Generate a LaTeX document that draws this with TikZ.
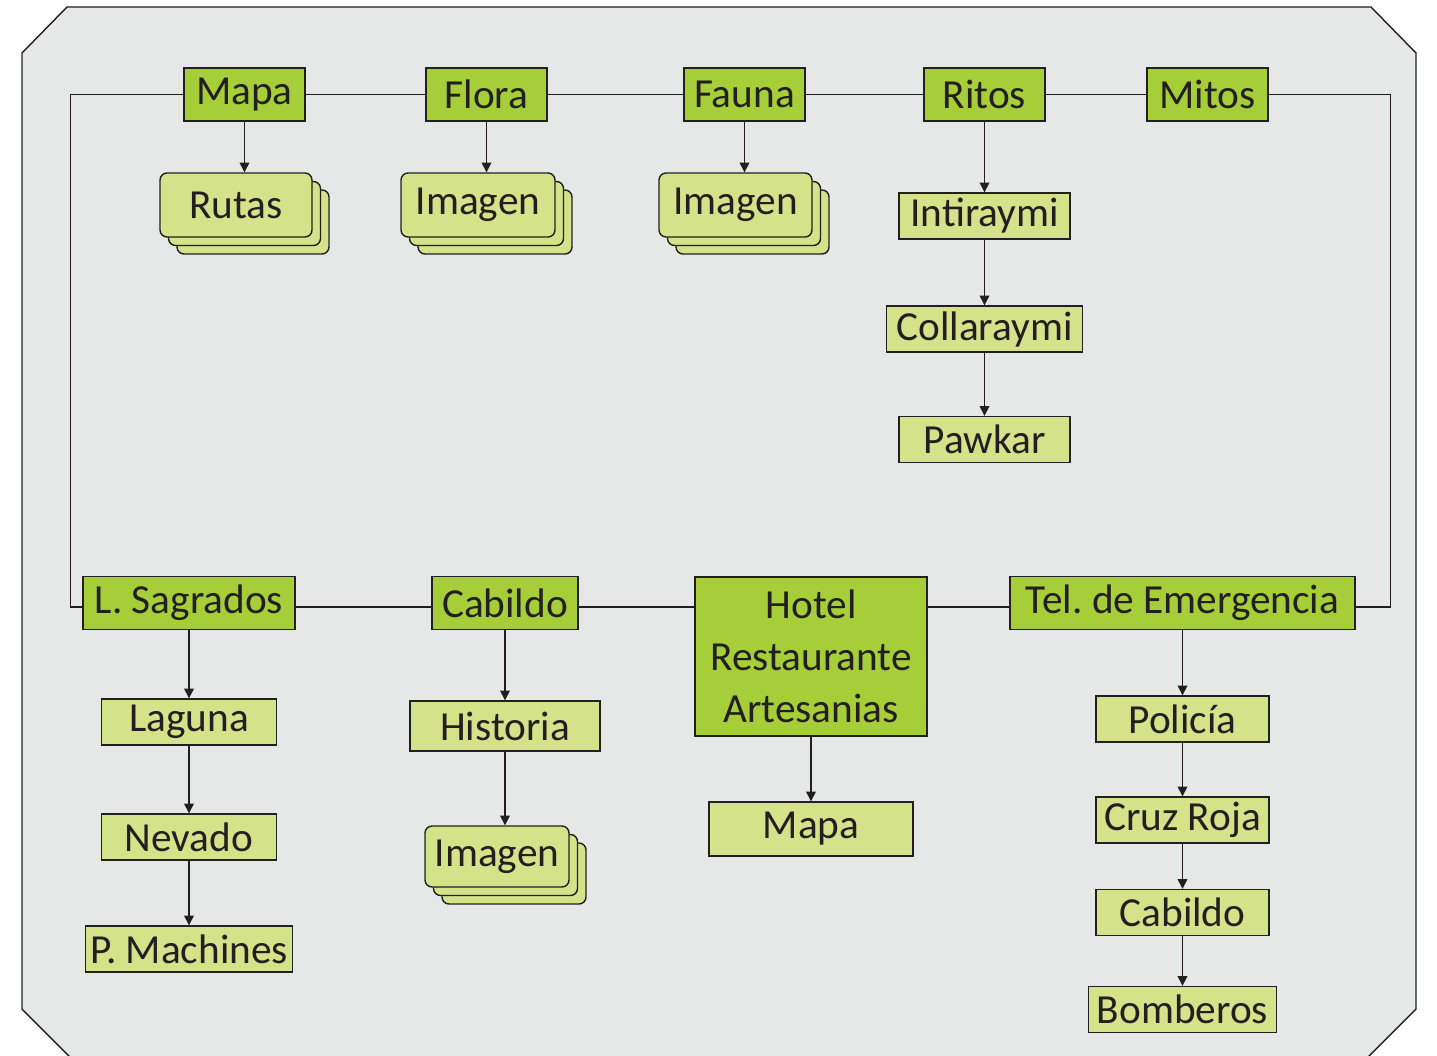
\documentclass[tikz,border=0pt]{standalone}
\usepackage{fontspec}
\setmainfont{Carlito}
\usepackage{xcolor}
\usetikzlibrary{arrows.meta,shadows}
\definecolor{dkgreen}{HTML}{A6CE39}
\definecolor{ltgreen}{HTML}{D4E38A}
\definecolor{bggray}{HTML}{E6E7E7}
\definecolor{ink}{HTML}{231F20}
\frenchspacing
\tikzset{
  mainbox/.style={draw=ink, fill=dkgreen, line width=0.8pt, inner sep=0pt, minimum height=1.06cm},
  subbox/.style={draw=ink, fill=ltgreen, line width=0.8pt, inner sep=0pt, minimum height=0.92cm},
  stackbox/.style={draw=ink, fill=ltgreen, line width=0.8pt, inner sep=0pt, rounded corners=0.14cm,
    minimum height=1.28cm, double copy shadow={shadow xshift=0.17cm, shadow yshift=-0.17cm}},
  link/.style={draw=ink, line width=0.8pt},
  arr/.style={->, draw=ink, line width=0.8pt, >={Triangle[length=5.5pt,width=5.5pt]}},
}

\begin{document}
\begin{tikzpicture}[x=0.02cm, y=-0.02cm, font=\fontsize{23.5}{29.5}\selectfont, text=ink]
  \useasboundingbox (0,0) rectangle (1437,1055);
  \draw[draw=ink, fill=bggray, line width=0.8pt] (67,7) -- (1371,7) -- (1416,53) -- (1416,1009)
    -- (1364,1061) -- (74,1061) -- (22,1009) -- (22,53) -- cycle;

  \node[mainbox, minimum width=2.42cm] (mapa) at (244.5,94.5) {Mapa};
  \node[mainbox, minimum width=2.42cm] (flora) at (486.5,94.5) {Flora};
  \node[mainbox, minimum width=2.42cm] (fauna) at (744.5,94.5) {Fauna};
  \node[mainbox, minimum width=2.42cm] (ritos) at (984.5,94.5) {Ritos};
  \node[mainbox, minimum width=2.42cm] (mitos) at (1207.5,94.5) {Mitos};

  \node[stackbox, minimum width=3.04cm] (rutas) at (236,205) {Rutas};
  \node[stackbox, minimum width=3.08cm] (imgflora) at (478,205) {Imagen};
  \node[stackbox, minimum width=3.06cm] (imgfauna) at (735.5,205) {Imagen};

  \node[subbox, minimum width=3.42cm] (inti) at (984.5,216) {Intiraymi};
  \node[subbox, minimum width=3.92cm] (colla) at (984.5,329) {Collaraymi};
  \node[subbox, minimum width=3.42cm] (pawkar) at (984.5,439.5) {Pawkar};

  \node[mainbox, minimum width=4.24cm] (lsag) at (189,603) {L. Sagrados};
  \node[mainbox, minimum width=2.92cm] (cab) at (505,603) {Cabildo};
  \node[mainbox, minimum width=4.64cm, minimum height=3.18cm, align=center] (hotel) at (811,656.5)
    {Hotel\\Restaurante\\Artesanias};
  \node[mainbox, minimum width=6.9cm] (tel) at (1182.5,603) {Tel. de Emergencia};

  \node[subbox, minimum width=3.5cm] (laguna) at (189,722) {Laguna};
  \node[subbox, minimum width=3.5cm] (nevado) at (189,837) {Nevado};
  \node[subbox, minimum width=4.14cm] (machines) at (189,949) {P. Machines};

  \node[subbox, minimum width=3.8cm, minimum height=1cm] (historia) at (505,726) {Historia};
  \node[stackbox, minimum width=2.88cm, minimum height=1.22cm] (imgcab) at (497,856.5) {Imagen};

  \node[subbox, minimum width=4.08cm, minimum height=1.08cm] (mapahotel) at (811,829) {Mapa};

  \node[subbox, minimum width=3.46cm] (policia) at (1182.5,719) {Policía};
  \node[subbox, minimum width=3.46cm] (cruz) at (1182.5,820) {Cruz Roja};
  \node[subbox, minimum width=3.46cm] (cabtel) at (1182.5,912.5) {Cabildo};
  \node[subbox, minimum width=3.76cm] (bomb) at (1182.5,1009.5) {Bomberos};

  \draw[link] (mapa) -- (flora) -- (fauna) -- (ritos) -- (mitos);
  \draw[link] (mapa.west) -- ++(-113,0) |- ([yshift=-0.08cm]lsag.west);
  \draw[link] (mitos.east) -- ++(122,0) |- ([yshift=-0.08cm]tel.east);
  \draw[link] ([yshift=-0.08cm]lsag.east) -- ([yshift=-0.08cm]cab.west);
  \draw[link] ([yshift=-0.08cm]cab.east) -- ([yshift=-0.08cm]cab.east -| hotel.west);
  \draw[link] ([yshift=-0.08cm]hotel.east |- tel.west) -- ([yshift=-0.08cm]tel.west);

  \draw[arr] (mapa.south) -- (mapa.south |- rutas.north);
  \draw[arr] (flora.south) -- (flora.south |- imgflora.north);
  \draw[arr] (fauna.south) -- (fauna.south |- imgfauna.north);
  \draw[arr] (ritos) -- (inti);
  \draw[arr] (inti) -- (colla);
  \draw[arr] (colla) -- (pawkar);

  \draw[arr] (lsag) -- (laguna);
  \draw[arr] (laguna) -- (nevado);
  \draw[arr] (nevado) -- (machines);
  \draw[arr] (cab) -- (historia);
  \draw[arr] (historia.south) -- (historia.south |- imgcab.north);
  \draw[arr] (hotel) -- (mapahotel);
  \draw[arr] (tel) -- (policia);
  \draw[arr] (policia) -- (cruz);
  \draw[arr] (cruz) -- (cabtel);
  \draw[arr] (cabtel) -- (bomb);
\end{tikzpicture}
\end{document}
